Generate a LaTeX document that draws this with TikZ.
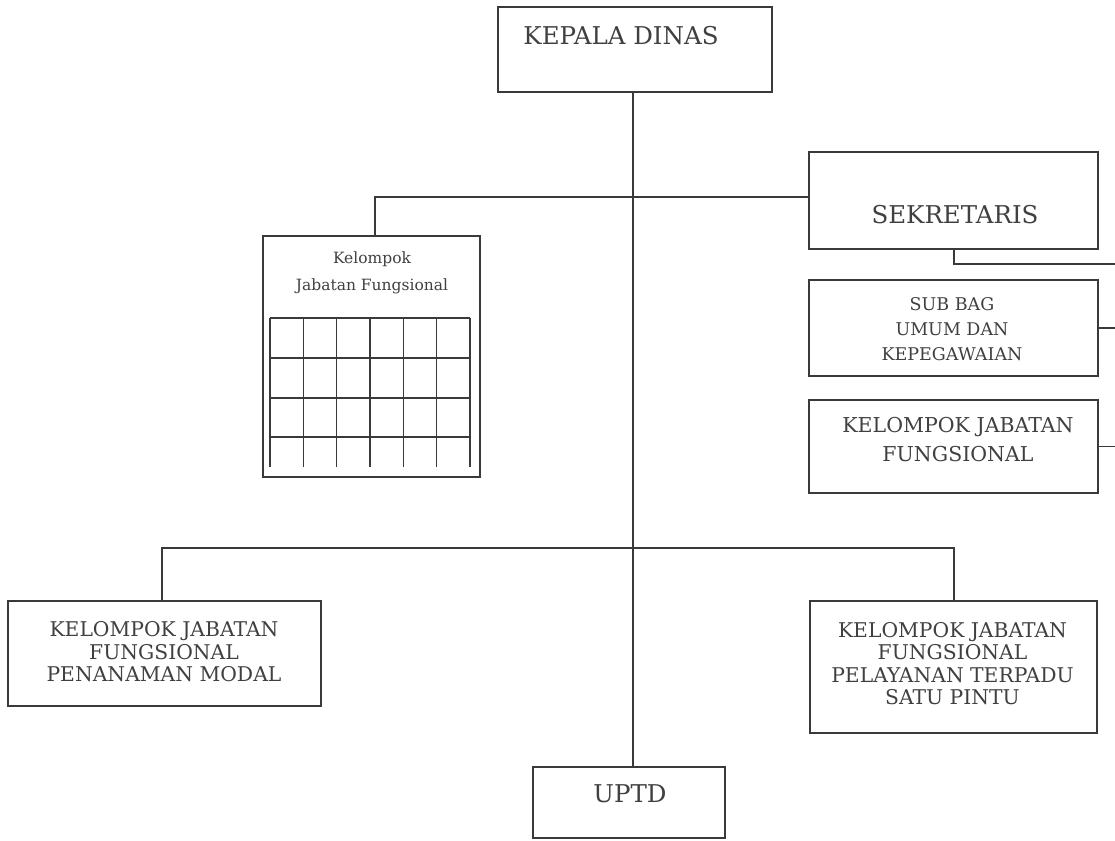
\documentclass[tikz,border=0pt]{standalone}
\usepackage{fontspec}
\setmainfont{DejaVu Serif}
\definecolor{ink}{HTML}{3A3A3A}
\definecolor{txt}{HTML}{404040}
\begin{document}
\begin{tikzpicture}[x=1pt,y=-1pt,
  box/.style={draw=ink,line width=1.4pt,rectangle,inner sep=0pt,fill=white},
  lbl/.style={text=txt,inner sep=0pt,align=center},
  big/.style={lbl,font=\fontsize{24.5}{28}\selectfont},
  med/.style={lbl,font=\fontsize{20.3}{22.5}\selectfont},
  conn/.style={draw=ink,line width=1.4pt},
  gridline/.style={draw=ink,line width=1.1pt}]
\useasboundingbox (0,0) rectangle (1115,840);
% boxes
\node[box,minimum width=274pt,minimum height=85pt] (kd) at (635,49.5) {};
\node[box,minimum width=289pt,minimum height=97pt] (sek) at (953.5,200.5) {};
\node[box,minimum width=289pt,minimum height=96pt] (sub) at (953.5,328) {};
\node[box,minimum width=289pt,minimum height=93pt] (kjf) at (953.5,446.5) {};
\node[box,minimum width=217pt,minimum height=241pt] (kjs) at (371.5,356.5) {};
\node[box,minimum width=313pt,minimum height=105pt] (kpm) at (164.5,653.5) {};
\node[box,minimum width=287pt,minimum height=132pt] (kps) at (953.5,667) {};
\node[box,minimum width=192pt,minimum height=71pt] (uptd) at (629,802.5) {};
% texts
\node[big] (tkd) at (621,36) {KEPALA DINAS};
\node[big] (tsek) at (955,215) {SEKRETARIS};
\node[big] (tuptd) at (630,794) {UPTD};
\node[lbl,font=\fontsize{17.5}{25}\selectfont] (tsub) at (952,329) {SUB BAG\\UMUM DAN\\KEPEGAWAIAN};
\node[lbl,font=\fontsize{20.5}{29}\selectfont] (tkjf) at (958,440) {KELOMPOK JABATAN\\FUNGSIONAL};
\node[med] (tkpm) at (164,652) {KELOMPOK JABATAN\\FUNGSIONAL\\PENANAMAN MODAL};
\node[med] (tkps) at (952.5,663.5) {KELOMPOK JABATAN\\FUNGSIONAL\\PELAYANAN TERPADU\\SATU PINTU};
\node[lbl,font=\fontsize{15.5}{27}\selectfont] (tkjs) at (372,273) {Kelompok\\Jabatan Fungsional};
% grid inside small box
\foreach \i in {0,...,6}{
  \draw[gridline] ({270+\i*33.333},318) -- ({270+\i*33.333},467);
}
\foreach \yy in {318,358,398,437}{
  \draw[gridline] (270,\yy) -- (470,\yy);
}
% connectors
\coordinate (tx) at (633,0);
\coordinate (rs) at (954,0);
\coordinate (ls) at (162,0);
\coordinate (ks) at (375,0);
\coordinate (edge) at (1115,0);
\coordinate (j1) at (633,197);
\coordinate (j2) at (633,548);
\draw[conn] (kd.south -| tx) -- (uptd.north -| tx);
\draw[conn] (sek.west |- j1) -- (j1) -| (kjs.north -| ks);
\draw[conn] (sek.south -| rs) |- (edge |- 0,264);
\draw[conn] (sub.east) -- (edge |- sub.east);
\draw[conn] (kjf.east) -- (edge |- kjf.east);
\draw[conn] (kpm.north -| ls) |- (j2) -| (kps.north -| rs);
\end{tikzpicture}
\end{document}
